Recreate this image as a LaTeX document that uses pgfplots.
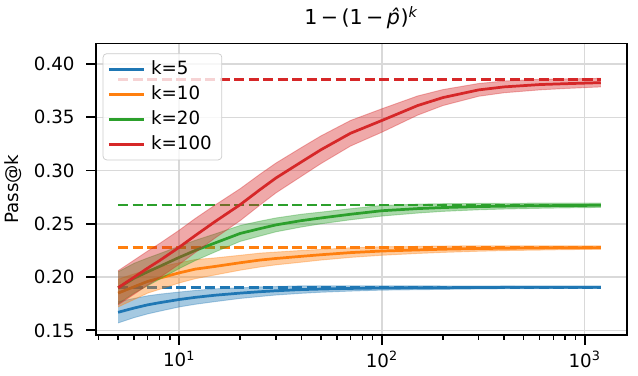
\documentclass[border=0pt]{standalone}
\usepackage{fontspec}
\setmainfont{DejaVu Sans}
\usepackage{pgfplots}
\pgfplotsset{compat=1.18}
\usepackage{pgfplotstable}
\usepgfplotslibrary{fillbetween}

\definecolor{tabblue}{HTML}{1F77B4}
\definecolor{taborange}{HTML}{FF7F0E}
\definecolor{tabgreen}{HTML}{2CA02C}
\definecolor{tabred}{HTML}{D62728}

\pgfplotstableread{
x y lo hi
5 0.167 0.157 0.177
6 0.171 0.162 0.180
7 0.174 0.1655 0.1825
8 0.176 0.168 0.184
10 0.179 0.172 0.186
12 0.181 0.1745 0.1875
15 0.183 0.177 0.189
20 0.185 0.180 0.190
25 0.1863 0.1818 0.1908
30 0.1872 0.1832 0.1912
40 0.1883 0.1848 0.1918
50 0.1888 0.1858 0.1918
70 0.1894 0.1869 0.1919
100 0.1898 0.1878 0.1918
150 0.1900 0.1882 0.1918
200 0.1901 0.1885 0.1917
300 0.1903 0.1889 0.1917
400 0.1904 0.1891 0.1917
600 0.1904 0.1892 0.1916
800 0.1905 0.1894 0.1916
1200 0.1905 0.1895 0.1915
}\kfive

\pgfplotstableread{
x y lo hi
5 0.185 0.172 0.198
6 0.191 0.179 0.203
7 0.196 0.185 0.207
8 0.199 0.1885 0.2095
10 0.204 0.1945 0.2135
12 0.2075 0.1985 0.2165
15 0.210 0.202 0.218
20 0.2135 0.2065 0.2205
25 0.216 0.2095 0.2225
30 0.2175 0.2115 0.2235
40 0.2195 0.214 0.225
50 0.221 0.216 0.226
70 0.223 0.2185 0.2275
100 0.2245 0.2205 0.2285
150 0.2255 0.2222 0.2288
200 0.2262 0.2232 0.2292
300 0.2268 0.2243 0.2293
400 0.2271 0.2249 0.2293
600 0.2274 0.2254 0.2294
800 0.2276 0.2258 0.2294
1200 0.2277 0.2261 0.2293
}\kten

\pgfplotstableread{
x y lo hi
5 0.190 0.175 0.205
6 0.199 0.185 0.213
7 0.205 0.192 0.218
8 0.210 0.198 0.222
10 0.2185 0.208 0.229
12 0.225 0.2155 0.2345
15 0.232 0.2235 0.2405
20 0.241 0.2335 0.2485
25 0.2455 0.2385 0.2525
30 0.249 0.2425 0.2555
40 0.253 0.247 0.259
50 0.2555 0.250 0.261
70 0.259 0.2538 0.2642
100 0.2623 0.2573 0.2673
150 0.2643 0.2601 0.2685
200 0.2653 0.2617 0.2689
300 0.2662 0.2632 0.2692
400 0.2666 0.2639 0.2693
600 0.2670 0.2646 0.2694
800 0.2672 0.2650 0.2694
1200 0.2674 0.2654 0.2694
}\ktwenty

\pgfplotstableread{
x y lo hi
5 0.190 0.174 0.206
6 0.200 0.184 0.216
7 0.2085 0.1925 0.2245
8 0.2155 0.1995 0.2315
10 0.228 0.212 0.244
12 0.239 0.223 0.255
15 0.252 0.2365 0.2675
20 0.268 0.253 0.283
25 0.282 0.2675 0.2965
30 0.293 0.279 0.307
40 0.308 0.2945 0.3215
50 0.3195 0.3065 0.3325
70 0.335 0.323 0.347
100 0.347 0.336 0.358
150 0.361 0.352 0.370
200 0.3685 0.361 0.376
300 0.3757 0.3697 0.3817
400 0.3785 0.373 0.384
600 0.3807 0.3757 0.3857
800 0.3815 0.377 0.386
1200 0.3825 0.3785 0.3865
}\khundred

\begin{document}
\fontsize{10}{12}\selectfont
\begin{tikzpicture}
\begin{axis}[
  at={(0,0)}, anchor=south west,
  scale only axis, width=290.8pt, height=159.7pt,
  xmode=log, xmin=3.89, xmax=1611, ymin=0.1458, ymax=0.4193,
  xtick={10,100,1000},
  xticklabels={10\textsuperscript{1},10\textsuperscript{2},10\textsuperscript{3}},
  minor xtick={4,5,6,7,8,9,20,30,40,50,60,70,80,90,200,300,400,500,600,700,800,900},
  ytick={0.15,0.20,0.25,0.30,0.35,0.40},
  yticklabels={0.15,0.20,0.25,0.30,0.35,0.40},
  yticklabel style={xshift=-2.9pt},
  grid=major, major grid style={black!15, line width=0.8pt},
  tick align=outside, xtick pos=bottom, ytick pos=left,
  major tick length=5.3pt, minor tick length=2.8pt,
  major tick style={black, line width=1pt},
  minor tick style={black, line width=0.8pt},
  axis line style={line width=1pt},
  title={1\,−\,(1\,−\,\textit{\^{p}})\textsuperscript{\textit{k}}},
  title style={font=\fontsize{11.3}{13}\selectfont, at={(axis description cs:0.5,1)}, anchor=center, yshift=8pt},
  ylabel={Pass@k},
  ylabel style={at={(axis description cs:-0.157,0.5)}, anchor=center},
  legend style={at={(axis description cs:0.0126,0.966)}, anchor=north west,
    draw=black!20, fill=white, fill opacity=0.8, draw opacity=1, text opacity=1,
    rounded corners=2pt, row sep=0.6pt, inner xsep=2.5pt, inner ysep=2pt,
    nodes={inner ysep=2pt, inner xsep=3pt},
    font=\fontsize{10}{12}\selectfont},
  legend cell align=left,
  legend image code/.code={\draw[#1] (0cm,0cm) -- (0.68cm,0cm);},
  /tikz/fill between/on layer=main,
]
% k=5
\addplot[tabblue, opacity=0.35, line width=0.5pt, name path=ahi, forget plot] table[x=x,y=hi]{\kfive};
\addplot[tabblue, opacity=0.35, line width=0.5pt, name path=alo, forget plot] table[x=x,y=lo]{\kfive};
\addplot[tabblue, fill opacity=0.4, draw=none, forget plot] fill between[of=ahi and alo];
\addplot[tabblue, line width=1.5pt] table[x=x,y=y]{\kfive};
\addlegendentry{k=5}
\addplot[tabblue, line width=1.5pt, dash pattern=on 5.55pt off 2.4pt, forget plot] coordinates {(5,0.1905) (1200,0.1905)};
% k=10
\addplot[taborange, opacity=0.35, line width=0.5pt, name path=bhi, forget plot] table[x=x,y=hi]{\kten};
\addplot[taborange, opacity=0.35, line width=0.5pt, name path=blo, forget plot] table[x=x,y=lo]{\kten};
\addplot[taborange, fill opacity=0.4, draw=none, forget plot] fill between[of=bhi and blo];
\addplot[taborange, line width=1.5pt] table[x=x,y=y]{\kten};
\addlegendentry{k=10}
\addplot[taborange, line width=1.5pt, dash pattern=on 5.55pt off 2.4pt, forget plot] coordinates {(5,0.2278) (1200,0.2278)};
% k=20
\addplot[tabgreen, opacity=0.35, line width=0.5pt, name path=chi, forget plot] table[x=x,y=hi]{\ktwenty};
\addplot[tabgreen, opacity=0.35, line width=0.5pt, name path=clo, forget plot] table[x=x,y=lo]{\ktwenty};
\addplot[tabgreen, fill opacity=0.4, draw=none, forget plot] fill between[of=chi and clo];
\addplot[tabgreen, line width=1.5pt] table[x=x,y=y]{\ktwenty};
\addlegendentry{k=20}
\addplot[tabgreen, line width=1.5pt, dash pattern=on 5.55pt off 2.4pt, forget plot] coordinates {(5,0.2677) (1200,0.2677)};
% k=100
\addplot[tabred, opacity=0.35, line width=0.5pt, name path=dhi, forget plot] table[x=x,y=hi]{\khundred};
\addplot[tabred, opacity=0.35, line width=0.5pt, name path=dlo, forget plot] table[x=x,y=lo]{\khundred};
\addplot[tabred, fill opacity=0.4, draw=none, forget plot] fill between[of=dhi and dlo];
\addplot[tabred, line width=1.5pt] table[x=x,y=y]{\khundred};
\addlegendentry{k=100}
\addplot[tabred, line width=1.5pt, dash pattern=on 5.55pt off 2.4pt, forget plot] coordinates {(5,0.3857) (1200,0.3857)};
\end{axis}
\pgfresetboundingbox
\path[use as bounding box] (-52.6pt,-22.5pt) rectangle (297.0pt,183.5pt);
\end{tikzpicture}
\end{document}
